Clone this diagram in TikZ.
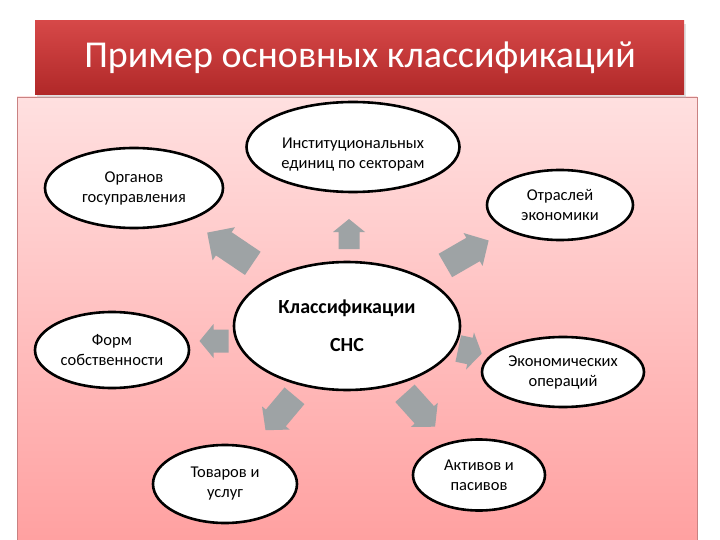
\documentclass[tikz,border=0pt]{standalone}
\usepackage{fontspec}
\setmainfont{Carlito}
\usetikzlibrary{shapes.geometric}
\definecolor{barTop}{RGB}{214,72,72}
\definecolor{barBot}{RGB}{176,40,40}
\definecolor{pinkTop}{RGB}{255,224,224}
\definecolor{pinkBot}{RGB}{255,160,160}
\definecolor{arrowgray}{RGB}{158,163,165}
\tikzset{
  ovaltext/.style={align=center, inner sep=0pt, font=\fontsize{16.5}{20}\selectfont},
  oval/.style={ellipse, draw=black, line width=2.6pt, fill=white, inner sep=0pt, ovaltext},
  pics/barrow/.style args={#1/#2/#3/#4}{code={
    \fill[arrowgray] (-#1/2,-#3/2) -- (#1/2-#4,-#3/2) -- (#1/2-#4,-#2/2) -- (#1/2,0)
      -- (#1/2-#4,#2/2) -- (#1/2-#4,#3/2) -- (-#1/2,#3/2) -- cycle;
  }}
}
\begin{document}
\begin{tikzpicture}[x=1pt,y=-1pt]
\useasboundingbox (0,0) rectangle (720,540);
\fill[white] (0,0) rectangle (720,540);
% panel
\shade[top color=pinkTop, bottom color=pinkBot, draw=red!40!gray!70, line width=0.6pt]
  (17,97) rectangle (697,545);
% title bar shadow and bar
\fill[black!30, opacity=0.4] (37,24) rectangle (686,98);
\shade[top color=barTop, bottom color=barBot] (35,21) rectangle (684,95);
\node[text=white, font=\fontsize{38}{40}\selectfont] (title) at (360,58) {Пример основных классификаций};
% ellipses
\node[oval, minimum width=226pt, minimum height=128pt,
  font=\fontsize{20}{38}\selectfont\bfseries] (main) at (347,326) {Классификации\\СНС};
\node[oval, minimum width=213pt, minimum height=90pt] (inst) at (353,147) {};
\node[ovaltext] (insttext) at (353,155) {Институциональных\\единиц по секторам};
\node[oval, minimum width=178pt, minimum height=80pt] (organ) at (134,188) {Органов\\госуправления};
\node[oval, minimum width=146pt, minimum height=70pt] (otr) at (560,205) {Отраслей\\экономики};
\node[oval, minimum width=154pt, minimum height=76pt] (form) at (112,350) {Форм\\собственности};
\node[oval, minimum width=162pt, minimum height=70pt] (econ) at (563,372) {Экономических\\операций};
\node[oval, minimum width=132pt, minimum height=71pt] (akt) at (479,475) {Активов и\\пасивов};
\node[oval, minimum width=144pt, minimum height=78pt] (tov) at (225,484) {Товаров и\\услуг};
% block arrows (length/head width/shaft width/head length)
\pic[rotate=90] (a1) at (349,234) {barrow={30/32/21/13}};
\pic[rotate=146] (a2) at (230,248) {barrow={55/40/28/20}};
\pic[rotate=30] (a3) at (467,253) {barrow={50/38/27/18}};
\pic[rotate=180] (a4) at (214,341) {barrow={29/34/23/14}};
\pic[rotate=-12] (a5) at (470,351) {barrow={24/38/27/12}};
\pic[rotate=-48] (a6) at (420,410) {barrow={45/36/26/16}};
\pic[rotate=230] (a7) at (280,413) {barrow={45/36/26/16}};
\end{tikzpicture}
\end{document}
